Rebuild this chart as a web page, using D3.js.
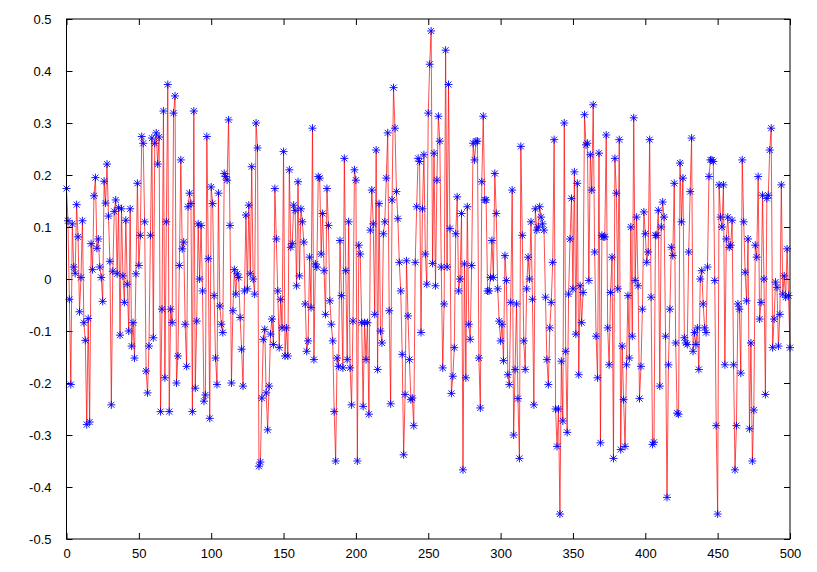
<!DOCTYPE html>
<html><head><meta charset="utf-8">
<script src="https://cdn.jsdelivr.net/npm/d3@7"></script>
<style>html,body{margin:0;padding:0;background:#fff}svg{display:block}</style>
</head><body><svg id="c" width="817" height="572"></svg>
<script>
// Series values, in order of x = 0 .. 500
const seg1=[0.174,0.112,-0.039,-0.203,0.106,0.023,0.011,0.143,0.081,-0.063,0.003,0.112,-0.084,-0.118,-0.28,-0.076,-0.275,0.068,0.018,0.16,0.195,0.059,0.077,0.023,0.003,-0.043,0.188,0.146,0.221,0.121,0.034,-0.242,0.015,0.13,0.152,0.01,0.137,-0.108];
const seg2=[0.135,0.006,-0.045,0.113,-0.01,-0.1,0.135,-0.129,-0.084,-0.152,0.01,0.184,0.026,0.084,0.274,0.261,0.11,-0.177,-0.219,-0.129,0.084,0.271,-0.113,0.261,0.281,0.221,0.273,-0.255,-0.058,0.323,-0.19,0.11,0.374,-0.255,-0.058,-0.084,0.319,0.352,-0.2,-0.148,0.026,0.229,0.058];
const seg3=[0.071,-0.087,-0.168,0.139,0.165,0.145,-0.255,0.323,-0.21,-0.081,0.106,0.0,0.103,-0.023,-0.235,-0.223,0.274,0.039,-0.268,0.177,0.145,-0.032,-0.152,-0.203,0.165,-0.052,-0.087,-0.103,0.203,0.197,0.19,0.306,0.103,-0.2,-0.061,0.018,-0.029,0.01,0.003,-0.074,-0.135];
const seg4=[-0.206,-0.023,0.123,-0.019,0.142,0.01,0.216,0.0,-0.029,0.3,0.252,-0.36,-0.352,-0.229,-0.116,-0.097,-0.219,-0.29,-0.206,-0.106,-0.077,-0.126,0.174,0.077,-0.023,-0.132,-0.039,-0.094,0.245,-0.148,-0.094,-0.148,0.21,0.061,0.068,0.142,0.132,-0.013,0.187,0.006,0.135];
const seg5=[0.11,0.071,-0.048,-0.139,-0.119,0.042,-0.055,0.29,-0.155,0.029,0.023,0.197,0.194,0.048,0.126,0.016,-0.068,0.174,0.103,-0.042,-0.087,-0.119,-0.255,-0.35,-0.152,-0.168,0.074,-0.032,-0.171,0.232,0.016,-0.155,0.11,-0.171,-0.242,-0.081,0.21,0.19,-0.35,0.065,0.048];
const seg6=[-0.084,-0.245,-0.084,-0.155,-0.084,-0.26,0.094,0.171,0.106,-0.068,0.248,-0.174,0.145,-0.1,-0.123,0.087,0.11,0.194,0.281,-0.061,-0.24,0.152,0.368,0.29,0.168,0.116,0.032,-0.023,-0.145,-0.338,-0.222,0.035,-0.071,-0.155,-0.232,-0.229,-0.282,0.032,0.139,0.232,0.226,-0.103];
const seg7=[0.135,0.239,0.048,-0.01,0.319,0.413,0.477,0.03,0.242,-0.013,0.19,0.313,0.265,0.023,-0.171,-0.048,0.44,0.023,0.374,0.097,-0.22,-0.187,-0.132,0.087,0.158,-0.023,0.0,0.126,-0.367,0.029,-0.19,0.139,-0.087,-0.116,0.026,0.261,0.229,0.265,0.265,-0.152,-0.248,0.187];
const seg8=[0.313,0.152,0.152,-0.023,-0.023,0.003,0.074,0.003,0.203,0.126,-0.019,-0.081,-0.119,-0.087,-0.157,0.045,-0.003,-0.184,-0.203,-0.045,0.171,-0.3,-0.174,-0.048,-0.23,-0.345,0.255,0.084,-0.119,-0.174,-0.019,0.042,0.0,0.11,-0.039,-0.242,0.135,0.094,0.1,0.139];
const seg9=[0.119,0.106,0.094,-0.035,-0.155,-0.203,-0.094,-0.045,0.032,0.268,-0.25,-0.322,-0.25,-0.452,-0.158,-0.273,0.3,-0.139,-0.295,-0.029,0.077,0.155,-0.019,0.206,-0.106,0.184,-0.184,-0.013,-0.084,-0.026,0.316,0.258,0.261,-0.003,0.239,0.171,0.335,0.052,-0.11,-0.19,0.242,-0.315];
const seg10=[0.084,0.081,0.081,0.277,-0.094,-0.165,-0.026,0.042,-0.345,0.232,0.165,-0.019,0.268,-0.328,-0.129,-0.232,-0.322,-0.165,-0.032,-0.152,0.1,-0.11,0.31,-0.003,0.119,-0.013,-0.23,-0.168,-0.058,0.129,0.087,0.032,0.052,0.268,-0.035,-0.318,-0.314,0.084,0.084,0.132,-0.206];
const seg11=[0.1,0.148,0.119,-0.11,-0.42,-0.165,-0.058,0.061,0.045,0.184,-0.123,-0.258,-0.26,0.223,0.11,0.194,-0.113,-0.123,-0.126,0.052,0.168,0.271,-0.139,-0.103,-0.126,-0.094,-0.174,0.0,0.016,-0.048,-0.094,-0.103,0.023,0.197,0.229,0.229,0.226,-0.003,-0.282,-0.452,0.181,0.119];
const seg12=[0.1,0.181,-0.165,0.077,0.119,0.061,0.065,0.113,-0.165,-0.367,-0.282,-0.048,-0.058,-0.181,0.229,0.11,0.013,-0.042,0.077,-0.288,-0.123,-0.35,-0.252,0.065,0.042,0.197,-0.077,-0.045,0.161,0.0,-0.222,0.155,0.161,0.248,0.29,-0.132,-0.077,-0.006,-0.016,-0.129,-0.068,0.181,-0.029,0.006,-0.035,0.058,-0.032,-0.132];
const values=[].concat(seg1,seg2,seg3,seg4,seg5,seg6,seg7,seg8,seg9,seg10,seg11,seg12);

const xTicks=[0,50,100,150,200,250,300,350,400,450,500];
const xTickLabels=["0","50","100","150","200","250","300","350","400","450","500"];
const yTicks=[-0.5,-0.4,-0.3,-0.2,-0.1,0,0.1,0.2,0.3,0.4,0.5];
const yTickLabels=["-0.5","-0.4","-0.3","-0.2","-0.1","0","0.1","0.2","0.3","0.4","0.5"];

const svg=d3.select("#c");
const L=66.5,R=790,T=19,B=539;
const x=d3.scaleLinear().domain([0,500]).range([L,R]);
const y=d3.scaleLinear().domain([-0.5,0.5]).range([B,T]);
const font="'Liberation Sans',Arial,Helvetica,sans-serif";

function styleAxis(g){
  g.select(".domain").remove();
  g.selectAll(".tick line").attr("stroke","#000").attr("stroke-width",1);
  g.selectAll(".tick text").attr("font-family",font).attr("font-size",13).attr("fill","#000");
}
svg.append("g").attr("transform",`translate(${L},0)`)
  .call(d3.axisLeft(y).tickValues(yTicks).tickSize(-6).tickPadding(15).tickFormat((d,i)=>yTickLabels[i]))
  .call(styleAxis);
svg.append("g").attr("transform",`translate(${R},0)`)
  .call(d3.axisRight(y).tickValues(yTicks).tickSize(-6).tickFormat(""))
  .call(styleAxis);
svg.append("g").attr("transform",`translate(0,${B})`)
  .call(d3.axisBottom(x).tickValues(xTicks).tickSize(-6).tickPadding(10).tickFormat((d,i)=>xTickLabels[i]))
  .call(styleAxis);
svg.append("g").attr("transform",`translate(0,${T})`)
  .call(d3.axisTop(x).tickValues(xTicks).tickSize(-6).tickFormat(""))
  .call(styleAxis);

const line=d3.line().x((d,i)=>x(i)).y(d=>y(d));
svg.append("path").datum(values).attr("d",line)
  .attr("fill","none").attr("stroke","#ff0000").attr("stroke-width",0.7);

const star="M-4,0H4M0,-4V4M-3,-3L3,3M-3,3L3,-3";
svg.append("g").selectAll("path").data(values).join("path")
  .attr("transform",(d,i)=>`translate(${x(i)},${y(d)})`)
  .attr("d",star).attr("fill","none").attr("stroke","#0000ff").attr("stroke-width",0.9);

svg.append("rect").attr("x",L).attr("y",T).attr("width",R-L).attr("height",B-T)
  .attr("fill","none").attr("stroke","#000").attr("stroke-width",1);
</script></body></html>
